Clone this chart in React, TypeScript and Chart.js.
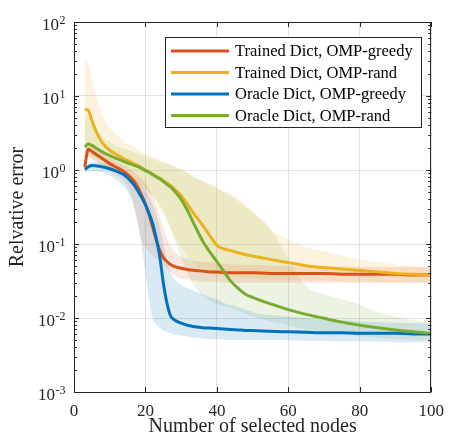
import React, { useEffect, useRef } from 'react';
import { Chart, registerables } from 'chart.js';
Chart.register(...registerables);

const X = [3, 4, 5, 6, 8, 10, 12, 14, 16, 17, 18, 19, 20, 21, 22, 23, 24, 25, 26, 27, 28, 30, 32, 34, 36, 38, 40, 42, 44, 46, 48, 50, 55, 60, 65, 70, 75, 80, 85, 90, 95, 100];

const trainedGreedy = [1.1, 1.9, 1.78, 1.65, 1.42, 1.22, 1.08, 0.95, 0.78, 0.68, 0.57, 0.45, 0.34, 0.25, 0.17, 0.115, 0.082, 0.066, 0.058, 0.053, 0.05, 0.047, 0.045, 0.044, 0.043, 0.042, 0.042, 0.041, 0.041, 0.041, 0.041, 0.041, 0.04, 0.04, 0.04, 0.04, 0.039, 0.039, 0.039, 0.039, 0.038, 0.038];
const trainedRand = [6.6, 6.4, 4.7, 3.5, 2.3, 1.85, 1.6, 1.42, 1.27, 1.2, 1.14, 1.07, 1.0, 0.94, 0.88, 0.82, 0.77, 0.72, 0.67, 0.62, 0.56, 0.45, 0.33, 0.24, 0.18, 0.13, 0.096, 0.086, 0.081, 0.076, 0.072, 0.069, 0.062, 0.056, 0.051, 0.048, 0.046, 0.044, 0.042, 0.04, 0.039, 0.038];
const oracleGreedy = [1.02, 1.1, 1.15, 1.14, 1.1, 1.04, 0.96, 0.86, 0.7, 0.61, 0.51, 0.42, 0.34, 0.26, 0.19, 0.12, 0.068, 0.03, 0.016, 0.0108, 0.0095, 0.0085, 0.0079, 0.0076, 0.0074, 0.0073, 0.0072, 0.0071, 0.007, 0.0069, 0.0068, 0.0068, 0.0066, 0.0065, 0.0064, 0.0063, 0.0063, 0.0062, 0.0062, 0.0062, 0.0061, 0.0061];
const oracleRand = [2.05, 2.25, 2.15, 2.0, 1.75, 1.56, 1.42, 1.3, 1.2, 1.15, 1.1, 1.04, 0.98, 0.93, 0.87, 0.81, 0.76, 0.7, 0.64, 0.59, 0.53, 0.4, 0.27, 0.17, 0.11, 0.078, 0.058, 0.042, 0.031, 0.025, 0.021, 0.019, 0.0155, 0.013, 0.0112, 0.0099, 0.0088, 0.008, 0.0074, 0.0069, 0.0065, 0.0062];

const trainedGreedyUpper = [1.3, 2.3, 2.2, 2.0, 1.7, 1.45, 1.28, 1.15, 1.0, 0.92, 0.85, 0.76, 0.66, 0.55, 0.44, 0.33, 0.24, 0.17, 0.12, 0.095, 0.08, 0.068, 0.062, 0.059, 0.057, 0.056, 0.055, 0.054, 0.053, 0.053, 0.052, 0.052, 0.051, 0.05, 0.05, 0.05, 0.05, 0.049, 0.049, 0.049, 0.049, 0.049];
const trainedGreedyLower = [0.9, 1.5, 1.4, 1.3, 1.12, 0.98, 0.85, 0.7, 0.45, 0.28, 0.16, 0.11, 0.09, 0.078, 0.07, 0.064, 0.058, 0.052, 0.046, 0.042, 0.038, 0.034, 0.033, 0.032, 0.031, 0.031, 0.031, 0.03, 0.03, 0.03, 0.03, 0.03, 0.03, 0.03, 0.03, 0.03, 0.03, 0.03, 0.03, 0.03, 0.03, 0.03];
const trainedRandUpper = [33, 27, 17, 11, 5.5, 3.7, 3.0, 2.45, 2.15, 2.0, 1.85, 1.75, 1.65, 1.58, 1.5, 1.42, 1.36, 1.3, 1.25, 1.2, 1.12, 1.03, 0.92, 0.8, 0.72, 0.65, 0.58, 0.52, 0.47, 0.41, 0.34, 0.28, 0.16, 0.115, 0.09, 0.08, 0.07, 0.062, 0.057, 0.053, 0.05, 0.048];
const trainedRandLower = [1.6, 1.7, 1.6, 1.5, 1.3, 1.15, 1.0, 0.9, 0.78, 0.72, 0.66, 0.6, 0.54, 0.48, 0.42, 0.36, 0.3, 0.25, 0.2, 0.16, 0.13, 0.09, 0.065, 0.052, 0.045, 0.041, 0.038, 0.037, 0.036, 0.035, 0.035, 0.034, 0.033, 0.033, 0.032, 0.032, 0.031, 0.031, 0.03, 0.03, 0.03, 0.03];
const oracleGreedyUpper = [1.1, 1.2, 1.27, 1.27, 1.23, 1.17, 1.08, 0.98, 0.85, 0.77, 0.69, 0.6, 0.52, 0.43, 0.34, 0.25, 0.17, 0.1, 0.06, 0.042, 0.034, 0.028, 0.025, 0.023, 0.021, 0.019, 0.018, 0.016, 0.015, 0.014, 0.013, 0.012, 0.011, 0.0105, 0.01, 0.0096, 0.0093, 0.009, 0.0088, 0.0086, 0.0085, 0.0084];
const oracleGreedyLower = [0.92, 0.97, 0.98, 0.97, 0.92, 0.84, 0.73, 0.6, 0.42, 0.3, 0.19, 0.09, 0.04, 0.018, 0.0098, 0.0083, 0.0074, 0.0068, 0.0065, 0.0062, 0.006, 0.0058, 0.0056, 0.0054, 0.0053, 0.0052, 0.0052, 0.0051, 0.0051, 0.0051, 0.0051, 0.0051, 0.005, 0.005, 0.0049, 0.0049, 0.0048, 0.0048, 0.0048, 0.0047, 0.0047, 0.0047];
const oracleRandUpper = [5, 5.5, 4.5, 3.8, 2.8, 2.4, 2.1, 1.95, 1.8, 1.72, 1.65, 1.58, 1.5, 1.45, 1.4, 1.35, 1.3, 1.25, 1.2, 1.15, 1.1, 1.0, 0.9, 0.78, 0.7, 0.63, 0.56, 0.5, 0.44, 0.38, 0.32, 0.27, 0.16, 0.062, 0.027, 0.021, 0.018, 0.015, 0.012, 0.0105, 0.0093, 0.0085];
const oracleRandLower = [1.4, 1.5, 1.45, 1.35, 1.2, 1.05, 0.95, 0.85, 0.75, 0.7, 0.65, 0.6, 0.55, 0.5, 0.45, 0.4, 0.34, 0.28, 0.22, 0.17, 0.12, 0.065, 0.038, 0.026, 0.02, 0.017, 0.0155, 0.0145, 0.0135, 0.0125, 0.0115, 0.0106, 0.009, 0.008, 0.007, 0.0064, 0.006, 0.0057, 0.0054, 0.0052, 0.0051, 0.005];

const seriesNames = ['Trained Dict, OMP-greedy', 'Trained Dict, OMP-rand', 'Oracle Dict, OMP-greedy', 'Oracle Dict, OMP-rand'];
const seriesColors = ['#D95319', '#EDB120', '#0072BD', '#77AC30'];
const bandColors = ['rgba(217,83,25,0.14)', 'rgba(237,177,32,0.15)', 'rgba(0,114,189,0.15)', 'rgba(119,172,48,0.14)'];

const yTickValues = [0.001, 0.01, 0.1, 1, 10, 100];
const yTickExponents = ['-3', '-2', '-1', '0', '1', '2'];
const xTickStep = 20;

const FONT = '"Liberation Serif", "Times New Roman", serif';
const AXIS = '#262626';

const pts = (ys: number[]) => X.map((x, i) => ({ x, y: ys[i] }));

const boxPlugin = {
  id: 'matlabBox',
  afterDatasetsDraw(chart: any) {
    const { ctx, chartArea: a, scales } = chart;
    const xs = scales.x;
    const ys = scales.y;
    ctx.save();
    ctx.strokeStyle = AXIS;
    ctx.lineWidth = 1;
    ctx.beginPath();
    for (let v = 0; v <= 100; v += xTickStep) {
      const px = Math.round(xs.getPixelForValue(v)) + 0.5;
      ctx.moveTo(px, a.bottom); ctx.lineTo(px, a.bottom - 5);
      ctx.moveTo(px, a.top); ctx.lineTo(px, a.top + 5);
    }
    for (let d = -3; d < 2; d++) {
      for (let m = 1; m <= 9; m++) {
        const v = m * Math.pow(10, d);
        const py = Math.round(ys.getPixelForValue(v)) + 0.5;
        const len = m === 1 ? 5 : 3;
        ctx.moveTo(a.left, py); ctx.lineTo(a.left + len, py);
        ctx.moveTo(a.right, py); ctx.lineTo(a.right - len, py);
      }
    }
    ctx.stroke();
    ctx.strokeRect(Math.round(a.left) + 0.5, Math.round(a.top) + 0.5, Math.round(a.right - a.left) - 1, Math.round(a.bottom - a.top));

    // y tick labels: 10 with raised exponent
    ctx.fillStyle = AXIS;
    ctx.textBaseline = 'alphabetic';
    ctx.textAlign = 'left';
    const rightEdge = a.left - 9;
    yTickValues.forEach((v, i) => {
      const py = ys.getPixelForValue(v);
      const exp = yTickExponents[i];
      ctx.font = '12px ' + FONT;
      const we = ctx.measureText(exp).width;
      ctx.font = '17px ' + FONT;
      const wb = ctx.measureText('10').width;
      const x0 = rightEdge - we - wb;
      ctx.fillText('10', x0, py + 8);
      ctx.font = '12px ' + FONT;
      ctx.fillText(exp, x0 + wb + 0.5, py + 1.5);
    });
    ctx.restore();
  },
  afterDraw(chart: any) {
    const { ctx } = chart;
    ctx.save();
    const bx = 165.5, by = 37.5, bw = 256, bh = 90;
    ctx.fillStyle = '#ffffff';
    ctx.fillRect(bx, by, bw, bh);
    ctx.strokeStyle = AXIS;
    ctx.lineWidth = 1;
    ctx.strokeRect(bx, by, bw, bh);
    ctx.font = '16.5px ' + FONT;
    ctx.textBaseline = 'middle';
    ctx.textAlign = 'left';
    const rows = [51, 72.5, 94, 115.5];
    seriesNames.forEach((name, i) => {
      ctx.strokeStyle = seriesColors[i];
      ctx.lineWidth = 3;
      ctx.beginPath();
      ctx.moveTo(171, rows[i]);
      ctx.lineTo(229, rows[i]);
      ctx.stroke();
      ctx.fillStyle = '#000000';
      ctx.fillText(name, 235, rows[i] + 1);
    });
    ctx.restore();
  },
};

export default function App() {
  const ref = useRef<HTMLCanvasElement | null>(null);
  useEffect(() => {
    if (!ref.current) return;
    const bandPairs = [
      [trainedGreedyUpper, trainedGreedyLower],
      [trainedRandUpper, trainedRandLower],
      [oracleGreedyUpper, oracleGreedyLower],
      [oracleRandUpper, oracleRandLower],
    ];
    const datasets: any[] = [];
    bandPairs.forEach(([up, lo], i) => {
      datasets.push({
        label: 'band-up-' + i,
        data: pts(up),
        borderWidth: 0,
        pointRadius: 0,
        backgroundColor: bandColors[i],
        fill: datasets.length + 1,
        cubicInterpolationMode: 'monotone',
        order: 10,
      });
      datasets.push({
        label: 'band-lo-' + i,
        data: pts(lo),
        borderWidth: 0,
        pointRadius: 0,
        fill: false,
        cubicInterpolationMode: 'monotone',
        order: 10,
      });
    });
    const lines = [trainedGreedy, trainedRand, oracleGreedy, oracleRand];
    lines.forEach((ys, i) => {
      datasets.push({
        label: seriesNames[i],
        data: pts(ys),
        borderColor: seriesColors[i],
        borderWidth: 3,
        pointRadius: 0,
        fill: false,
        cubicInterpolationMode: 'monotone',
        order: 4 - i,
      });
    });

    const chart = new Chart(ref.current, {
      type: 'line',
      data: { datasets },
      plugins: [boxPlugin],
      options: {
        animation: false,
        responsive: false,
        devicePixelRatio: 1,
        layout: { padding: { left: 0, top: 22, right: 18, bottom: 0 } },
        plugins: {
          legend: { display: false },
          tooltip: { enabled: false },
          filler: { drawTime: 'beforeDatasetsDraw' },
        },
        scales: {
          x: {
            type: 'linear',
            min: 0,
            max: 100,
            ticks: {
              stepSize: xTickStep,
              font: { family: FONT, size: 17 },
              color: AXIS,
              padding: 9,
              maxRotation: 0,
            },
            grid: { color: 'rgba(0,0,0,0.11)', drawTicks: false },
            border: { display: false },
            title: {
              display: true,
              text: 'Number of selected nodes',
              font: { family: FONT, size: 20 },
              color: AXIS,
              padding: { top: 0, bottom: 5 },
            },
            afterFit: (s: any) => { s.height = 52; },
          },
          y: {
            type: 'logarithmic',
            min: 0.001,
            max: 100,
            afterBuildTicks: (s: any) => { s.ticks = yTickValues.map((v) => ({ value: v, major: true })); },
            ticks: { display: false },
            grid: { color: 'rgba(0,0,0,0.11)', drawTicks: false },
            border: { display: false },
            title: {
              display: true,
              text: 'Relvative error',
              font: { family: FONT, size: 20 },
              color: AXIS,
              padding: { top: 6, bottom: 0 },
            },
            afterFit: (s: any) => { s.width = 74; },
          },
        },
      } as any,
    });
    return () => chart.destroy();
  }, []);

  return (
    <div style={{ position: 'fixed', left: 0, top: 0, width: 453, height: 444, background: '#fff' }}>
      <canvas ref={ref} width={453} height={444} style={{ display: 'block' }} />
    </div>
  );
}
